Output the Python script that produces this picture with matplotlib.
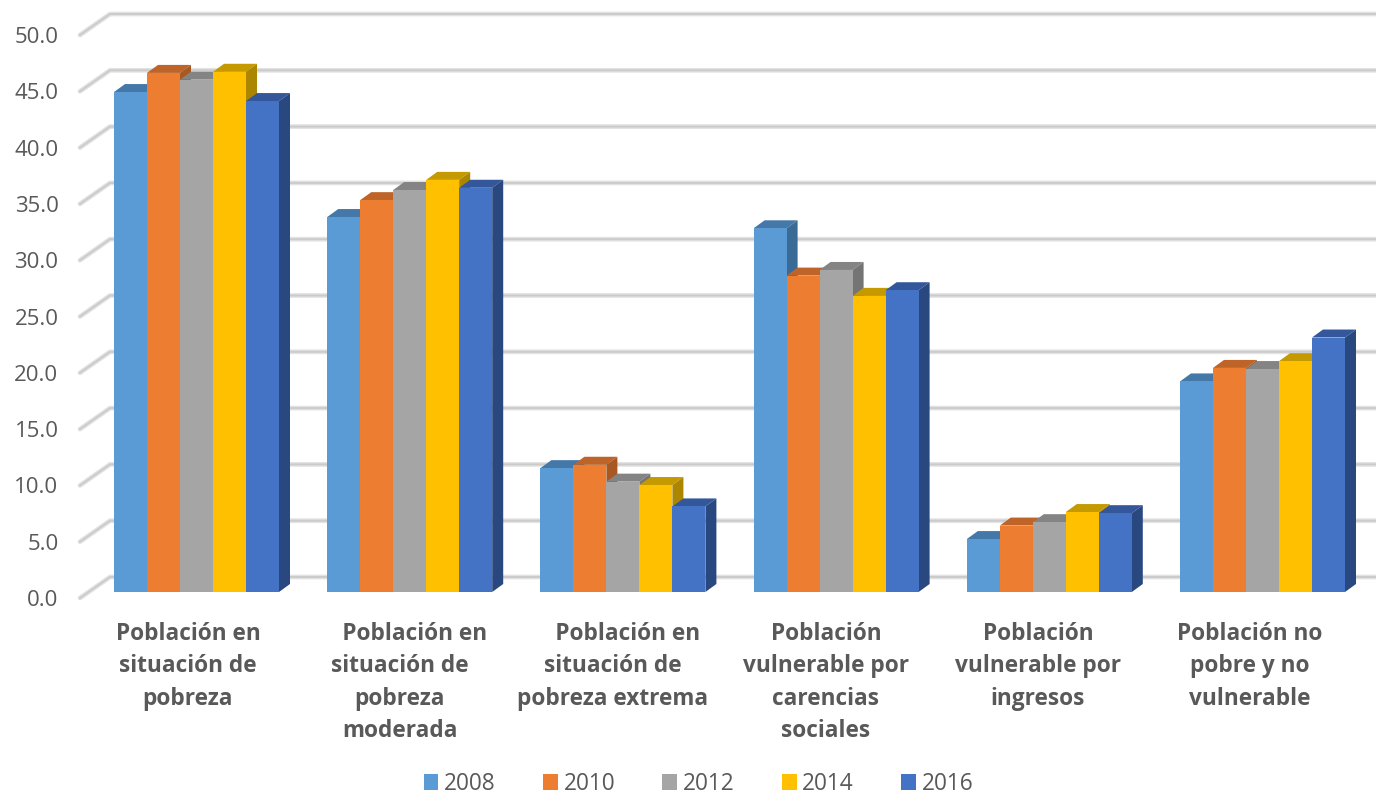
import numpy as np
import matplotlib
matplotlib.use("Agg")
import matplotlib.pyplot as plt
from matplotlib.patches import Polygon

plt.rcParams['font.family'] = ['Open Sans', 'DejaVu Sans']

# -----------------------------
# Data
# -----------------------------
categories = [
    "Población en\nsituación de\npobreza",
    "     Población en\nsituación de\npobreza\nmoderada",
    "     Población en\nsituación de\npobreza extrema",
    "Población\nvulnerable por\ncarencias\nsociales",
    "Población\nvulnerable por\ningresos",
    "Población no\npobre y no\nvulnerable",
]
years = ["2008", "2010", "2012", "2014", "2016"]
v2008 = [44.4, 33.3, 11.0, 32.3, 4.7, 18.7]
v2010 = [46.1, 34.8, 11.3, 28.1, 5.9, 19.9]
v2012 = [45.5, 35.7, 9.8, 28.6, 6.2, 19.8]
v2014 = [46.2, 36.6, 9.5, 26.3, 7.1, 20.5]
v2016 = [43.6, 35.9, 7.6, 26.8, 7.0, 22.6]
series = [v2008, v2010, v2012, v2014, v2016]
y_ticks = np.arange(0, 55, 5)

# -----------------------------
# Styles and layout (pixels of the 1376x795 picture)
# -----------------------------
W, H = 1376, 795
front = ["#5B9BD5", "#ED7D31", "#A5A5A5", "#FFC000", "#4472C4"]
top = ["#4478A8", "#BE6428", "#848484", "#C49A00", "#33579A"]
side = ["#3A6A96", "#A85820", "#747474", "#AD8600", "#2A4880"]
text_col = "#595959"

step_px = 213.2        # one category
unit_px = 11.26        # one y unit
bar_px = 33.0
depth_x, depth_y = 11.0, 8.0
wall_x, wall_y = 30.0, 21.0
floor_px = 6.0         # bars stand a bit above the wall's front edge
label_x_px = [188, 400, 613, 826, 1038, 1250]

fig = plt.figure(figsize=(W / 100, H / 100), dpi=100)
ax = fig.add_axes([80 / W, 1 - 598 / H, (W - 80) / W, 563 / H])
ax.set_xlim((80 - 196.5) / step_px, (W - 196.5) / step_px)
ax.set_ylim(0, 50)
for s in ax.spines.values():
    s.set_visible(False)

bw = bar_px / step_px
dx, dy = depth_x / step_px, depth_y / unit_px
wx, wy = wall_x / step_px, wall_y / unit_px
floor = floor_px / unit_px
x0 = ax.get_xlim()[0]

# gridlines: side wall then back wall
for v in y_ticks:
    xs = [x0, x0 + wx, ax.get_xlim()[1]]
    ys = [v, v + wy, v + wy]
    ax.plot(xs, ys, color="#E2E2E2", lw=3.4, clip_on=False, zorder=1,
            solid_joinstyle="round", solid_capstyle="round")
    ax.plot(xs, ys, color="#CBCBCB", lw=1.4, clip_on=False, zorder=1.1)

# bars, left to right so each one covers the side of the previous one
z = 2
for i in range(len(categories)):
    for j, vals in enumerate(series):
        left = i + (j - 2.5) * bw
        right = left + bw
        h = vals[i] + floor
        ax.add_patch(Polygon([(left, h), (right, h), (right + dx, h + dy), (left + dx, h + dy)],
                             closed=True, fc=top[j], ec="none", clip_on=False, zorder=z))
        ax.add_patch(Polygon([(right, floor), (right + dx, floor + dy), (right + dx, h + dy), (right, h)],
                             closed=True, fc=side[j], ec="none", clip_on=False, zorder=z))
        ax.bar(left, vals[i], bw, bottom=floor, align="edge", color=front[j],
               label=years[j] if i == 0 else None, clip_on=False, zorder=z + 0.5)
        z += 1

ax.set_xticks([])
ax.set_yticks(y_ticks)
ax.set_yticklabels([f"{v:.1f}" for v in y_ticks], fontsize=16, color=text_col)
ax.tick_params(axis="y", length=0, pad=15.5)

for name, lx in zip(categories, label_x_px):
    fig.text(lx / W, 1 - 622 / H, name, ha="center", va="top", fontsize=16.3,
             fontweight="bold", color=text_col, linespacing=1.46)

ax.legend(loc="center", bbox_to_anchor=(698.5 / W, 11 / H), bbox_transform=fig.transFigure,
          ncol=5, frameon=False, fontsize=16.3, labelcolor=text_col, handlelength=0.65,
          handleheight=0.65, handletextpad=0.25, columnspacing=2.09, borderpad=0)

fig.savefig("out.png", dpi=100)
